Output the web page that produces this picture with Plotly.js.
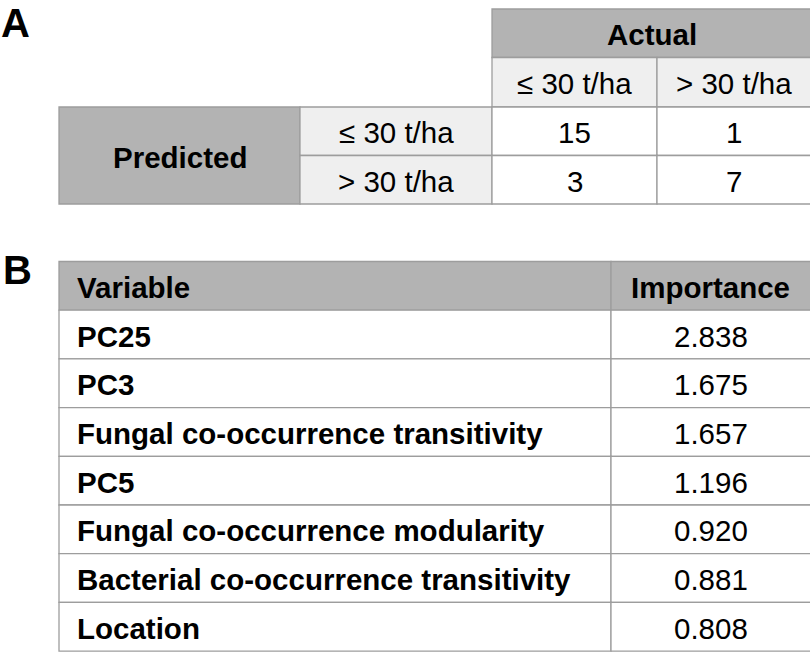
<!DOCTYPE html>
<html>
<head>
<meta charset="utf-8">
<script src="https://cdn.plot.ly/plotly-3.0.1.min.js"></script>
<style>
  html, body { margin: 0; padding: 0; background: #ffffff; }
  #chart { width: 810px; height: 652px; }
</style>
</head>
<body>
<div id="chart"></div>
<script>
// ---------- data ----------
const panelLabels = ["A", "B"];
const actualTitle = "Actual";
const predictedTitle = "Predicted";
const actualClasses = ["\u2264 30 t/ha", "> 30 t/ha"];
const predictedClasses = ["\u2264 30 t/ha", "> 30 t/ha"];
const confusionCounts = [[15, 1], [3, 7]];

const importanceHeader = ["Variable", "Importance"];
const variableNames = [
  "PC25",
  "PC3",
  "Fungal co-occurrence transitivity",
  "PC5",
  "Fungal co-occurrence modularity",
  "Bacterial co-occurrence transitivity",
  "Location"
];
const importanceValues = [2.838, 1.675, 1.657, 1.196, 0.920, 0.881, 0.808];

// ---------- layout constants ----------
const FONT = "Liberation Sans, Arial, Helvetica, sans-serif";
const FS = 29.5;
const DARK = "#b3b3b3";
const LIGHT = "#efefef";
const WHITE = "#ffffff";
const LINE = "#9d9d9d";
const LW = 1.3;
const TXT_DY = 1.5;

// table A grid
const aX = [59, 300, 492, 657, 812];
const aY = [9, 57.5, 107, 155.5, 204];
// table B grid
const bX = [59, 611, 812];
const bTop = 261.5, bRowH = 48.7;

const shapes = [];
const annotations = [];

function rect(x0, x1, y0, y1, fill) {
  shapes.push({type: "rect", xref: "x", yref: "y", x0, x1, y0, y1,
    fillcolor: fill, line: {color: LINE, width: LW}, layer: "below"});
}
function label(text, x, y, opts) {
  opts = opts || {};
  annotations.push(Object.assign({
    xref: "x", yref: "y", x, y: y + TXT_DY, text, showarrow: false,
    xanchor: "center", yanchor: "middle",
    font: {family: FONT, size: FS, color: "#000000"}
  }, opts));
}

// ---------- Table A ----------
rect(aX[2], aX[4], aY[0], aY[1], DARK);
label("<b>" + actualTitle + "</b>", (aX[2] + aX[4] - 1) / 2, (aY[0] + aY[1]) / 2);
actualClasses.forEach((c, j) => {
  rect(aX[2 + j], aX[3 + j], aY[1], aY[2], LIGHT);
  label(c, (aX[2 + j] + Math.min(aX[3 + j], 810)) / 2, (aY[1] + aY[2]) / 2);
});
rect(aX[0], aX[1], aY[2], aY[4], DARK);
label("<b>" + predictedTitle + "</b>", (aX[0] + aX[1]) / 2, (aY[2] + aY[4]) / 2);
predictedClasses.forEach((c, i) => {
  rect(aX[1], aX[2], aY[2 + i], aY[3 + i], LIGHT);
  label(c, (aX[1] + aX[2]) / 2, (aY[2 + i] + aY[3 + i]) / 2);
  confusionCounts[i].forEach((v, j) => {
    rect(aX[2 + j], aX[3 + j], aY[2 + i], aY[3 + i], WHITE);
    label(String(v), (aX[2 + j] + Math.min(aX[3 + j], 810)) / 2, (aY[2 + i] + aY[3 + i]) / 2);
  });
});

// ---------- Table B ----------
rect(bX[0], bX[1], bTop, bTop + bRowH, DARK);
rect(bX[1], bX[2], bTop, bTop + bRowH, DARK);
label("<b>" + importanceHeader[0] + "</b>", bX[0] + 16, bTop + bRowH / 2, {xanchor: "left"});
label("<b>" + importanceHeader[1] + "</b>", (bX[1] + 810) / 2, bTop + bRowH / 2);
variableNames.forEach((name, i) => {
  const y0 = bTop + bRowH * (i + 1), y1 = y0 + bRowH;
  rect(bX[0], bX[1], y0, y1, WHITE);
  rect(bX[1], bX[2], y0, y1, WHITE);
  label("<b>" + name + "</b>", bX[0] + 16, (y0 + y1) / 2, {xanchor: "left"});
  label(importanceValues[i].toFixed(3), (bX[1] + 810) / 2, (y0 + y1) / 2);
});

// ---------- panel letters ----------
label("<b>" + panelLabels[0] + "</b>", 1, 21, {xanchor: "left", borderpad: 0, borderwidth: 0,
  font: {family: FONT, size: 40, color: "#000000"}});
label("<b>" + panelLabels[1] + "</b>", 3, 268.5, {xanchor: "left", borderpad: 0, borderwidth: 0,
  font: {family: FONT, size: 40, color: "#000000"}});

const layout = {
  width: 810, height: 652,
  margin: {l: 0, r: 0, t: 0, b: 0, pad: 0},
  paper_bgcolor: "#ffffff", plot_bgcolor: "#ffffff",
  xaxis: {range: [0, 810], visible: false, fixedrange: true},
  yaxis: {range: [652, 0], visible: false, fixedrange: true},
  showlegend: false,
  shapes, annotations
};

Plotly.newPlot("chart", [{type: "scatter", x: [], y: [], mode: "markers", hoverinfo: "skip"}], layout,
  {staticPlot: true, displayModeBar: false});
</script>
</body>
</html>
